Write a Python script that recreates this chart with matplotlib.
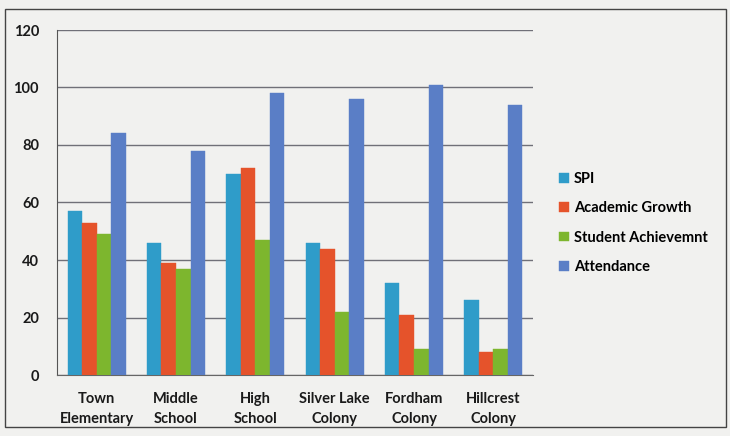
import matplotlib
matplotlib.use("Agg")
import matplotlib.pyplot as plt
import numpy as np
from matplotlib.patches import Rectangle

categories = ["Town\nElementary", "Middle\nSchool", "High\nSchool", "Silver Lake\nColony", "Fordham\nColony", "Hillcrest\nColony"]
series_names = ["SPI", "Academic Growth", "Student Achievemnt", "Attendance"]
spi = [57, 46, 70, 46, 32, 26]
academic_growth = [53, 39, 72, 44, 21, 8]
student_achievement = [49, 37, 47, 22, 9, 9]
attendance = [84, 78, 98, 96, 101, 94]
y_ticks = [0, 20, 40, 60, 80, 100, 120]

colors = ["#2f9cc9", "#e5532b", "#7db62e", "#5a7ec6"]
values = [spi, academic_growth, student_achievement, attendance]

plt.rcParams['font.family'] = ['Lato', 'DejaVu Sans']
bg = "#f1f1ef"
fig = plt.figure(figsize=(7.3, 4.36), dpi=100, facecolor=bg)
ax = fig.add_axes([57/730, 61/436, 476/730, 345/436], facecolor=bg)

x = np.arange(len(categories))
bw = 0.183
for i, (name, vals, c) in enumerate(zip(series_names, values, colors)):
    ax.bar(x + (i - 1.5) * bw, vals, width=bw, color=c, label=name, zorder=3,
           edgecolor=c, linewidth=0.3)

ax.set_xlim(-0.5, len(categories) - 0.5)
ax.set_ylim(0, 120)
ax.set_yticks(y_ticks)
ax.set_xticks(x)
ax.set_xticklabels(categories, fontsize=10.5, fontweight='bold', color="#1a1a1a", linespacing=1.6)
ax.tick_params(axis='both', length=0, colors="#1a1a1a", labelsize=10.5)
ax.tick_params(axis='y', pad=13)
ax.tick_params(axis='x', pad=12)
for lab in ax.get_yticklabels():
    lab.set_fontweight('bold')
ax.grid(axis='y', color="#707078", linewidth=1.0, zorder=0)
for s in ["top", "right"]:
    ax.spines[s].set_visible(False)
ax.spines["left"].set_color("#555555")
ax.spines["bottom"].set_color("#666666")

leg = fig.legend(loc="upper left", bbox_to_anchor=(546/730, 1 - 159/436), frameon=False,
                 handlelength=0.65, handleheight=0.65, handletextpad=0.35,
                 labelspacing=1.05, prop={'weight': 'bold', 'size': 10.5})

fig.add_artist(Rectangle((5/730, 9/436), 721/730, 418/436, transform=fig.transFigure,
                         fill=False, edgecolor="#444444", linewidth=1.0))

fig.savefig("out.png", dpi=100, facecolor=bg)
